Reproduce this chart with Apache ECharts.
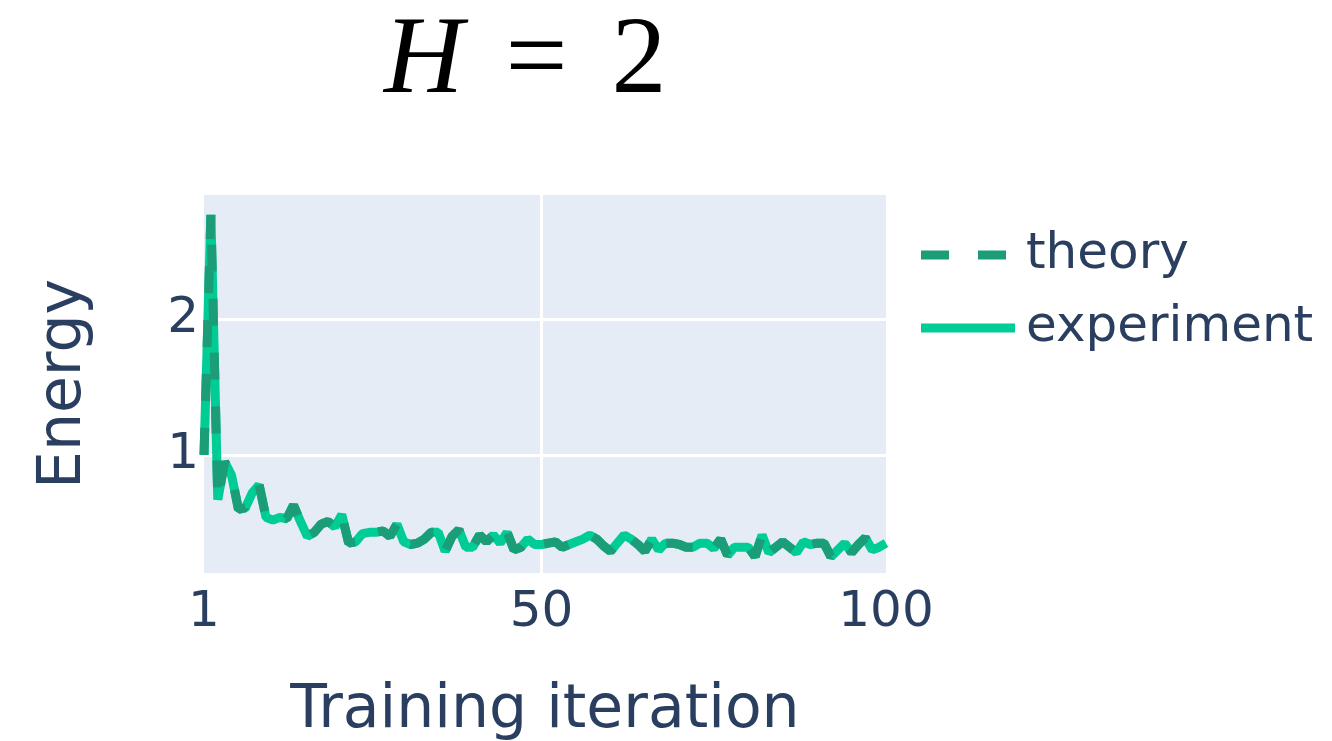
<!DOCTYPE html>
<html>
<head>
<meta charset="utf-8">
<script src="https://cdn.jsdelivr.net/npm/echarts@6/dist/echarts.min.js"></script>
<style>
html,body{margin:0;padding:0;background:#fff;}
#chart{width:1332px;height:741px;}
</style>
</head>
<body>
<div id="chart"></div>
<script>
// Energy per training iteration
const iterations = [1,2,3,4,5,6,7,8,9,10,11,12,13,14,15,16,17,18,19,20,21,22,23,24,25,26,27,28,29,30,31,32,33,34,35,36,37,38,39,40,41,42,43,44,45,46,47,48,49,50,51,52,53,54,55,56,57,58,59,60,61,62,63,64,65,66,67,68,69,70,71,72,73,74,75,76,77,78,79,80,81,82,83,84,85,86,87,88,89,90,91,92,93,94,95,96,97,98,99,100];
const theory = [1.00,2.77,0.67,0.95,0.85,0.60,0.61,0.72,0.78,0.54,
  0.52,0.54,0.53,0.63,0.51,0.40,0.43,0.49,0.51,0.47,
  0.56,0.35,0.36,0.42,0.43,0.43,0.44,0.40,0.49,0.36,
  0.34,0.35,0.38,0.43,0.43,0.29,0.40,0.45,0.32,0.32,
  0.41,0.36,0.41,0.35,0.43,0.30,0.32,0.38,0.34,0.34,
  0.35,0.36,0.32,0.34,0.36,0.38,0.41,0.38,0.33,0.29,
  0.35,0.41,0.38,0.34,0.29,0.38,0.30,0.35,0.35,0.34,
  0.32,0.32,0.35,0.35,0.31,0.38,0.26,0.32,0.32,0.32,
  0.25,0.41,0.28,0.32,0.36,0.32,0.28,0.36,0.34,0.35,
  0.35,0.25,0.30,0.35,0.28,0.34,0.39,0.30,0.32,0.35];
const experiment = [1.00,2.77,0.67,0.95,0.85,0.60,0.61,0.72,0.78,0.54,
  0.52,0.54,0.53,0.63,0.51,0.40,0.43,0.49,0.51,0.47,
  0.56,0.35,0.36,0.42,0.43,0.43,0.44,0.40,0.49,0.36,
  0.34,0.35,0.38,0.43,0.43,0.29,0.40,0.45,0.32,0.32,
  0.41,0.36,0.41,0.35,0.43,0.30,0.32,0.38,0.34,0.34,
  0.35,0.36,0.32,0.34,0.36,0.38,0.41,0.38,0.33,0.29,
  0.35,0.41,0.38,0.34,0.29,0.38,0.30,0.35,0.35,0.34,
  0.32,0.32,0.35,0.35,0.31,0.38,0.26,0.32,0.32,0.32,
  0.25,0.41,0.28,0.32,0.36,0.32,0.28,0.36,0.34,0.35,
  0.35,0.25,0.30,0.35,0.28,0.34,0.39,0.30,0.32,0.35];
const xTickLabels = [1, 50, 100];
const xGrid = [50];
const yTickLabels = [1, 2];

const pair = (vals) => iterations.map((it, i) => [it, vals[i]]);
const txt = '#2a3f5f';
const font = 'DejaVu Sans';

const chart = echarts.init(document.getElementById('chart'), null, {renderer: 'canvas'});
chart.setOption({
  animation: false,
  backgroundColor: '#ffffff',
  title: {
    text: '{h|H}{s1|}{r|=}{s2|}{r|2}',
    left: 379, top: 3,
    textStyle: {
      fontWeight: 'normal',
      rich: {
        h: {fontFamily: 'Liberation Serif', fontStyle: 'italic', fontWeight: 'normal', fontSize: 110, color: '#000'},
        r: {fontFamily: 'Liberation Serif', fontWeight: 'normal', fontSize: 110, color: '#000'},
        s1: {width: 42, fontSize: 110},
        s2: {width: 44, fontSize: 110}
      }
    }
  },
  legend: {
    orient: 'vertical',
    left: 916, top: 225,
    data: [
      {name: 'theory', icon: 'path://M0,0H28V9H0Z M57,0H85V9H57Z M93.9,4.4H94V4.6H93.9Z'},
      {name: 'experiment', icon: 'path://M0,0H94V9H0Z'}
    ],
    itemWidth: 94, itemHeight: 9, itemGap: 23,
    textStyle: {fontFamily: font, fontSize: 50, color: txt, lineHeight: 50, padding: [0,0,0,6]}
  },
  grid: {left: 204, right: 446, top: 195, bottom: 168, backgroundColor: '#e5ecf6', show: true, borderWidth: 0, outerBoundsMode: 'none', containLabel: false},
  xAxis: {
    type: 'value', min: 1, max: 100,
    name: 'Training iteration', nameLocation: 'middle', nameGap: 108,
    nameTextStyle: {fontFamily: font, fontSize: 60, color: txt},
    axisLine: {show: false}, axisTick: {show: false, customValues: xGrid},
    axisLabel: {customValues: xTickLabels, fontFamily: font, fontSize: 50, color: txt, margin: 15, showMinLabel: true, showMaxLabel: true},
    splitLine: {show: true, lineStyle: {color: '#ffffff', width: 3}}
  },
  yAxis: {
    type: 'value', min: 0.13, max: 2.916,
    name: 'Energy', nameLocation: 'middle', nameGap: 110,
    nameTextStyle: {fontFamily: font, fontSize: 60, color: txt},
    axisLine: {show: false}, axisTick: {show: false, customValues: yTickLabels},
    axisLabel: {customValues: yTickLabels, fontFamily: font, fontSize: 50, color: txt, margin: 5},
    splitLine: {show: true, lineStyle: {color: '#ffffff', width: 3}}
  },
  series: [
    {
      name: 'experiment', type: 'line', data: pair(experiment), symbol: 'none', z: 2,
      lineStyle: {color: '#00cc96', width: 9, join: 'bevel'}, itemStyle: {color: '#00cc96'}
    },
    {
      name: 'theory', type: 'line', data: pair(theory), symbol: 'none', z: 3,
      lineStyle: {color: '#1b9e77', width: 9, type: [27, 27], join: 'bevel'}, itemStyle: {color: '#1b9e77'}
    }
  ]
});
</script>
</body>
</html>
